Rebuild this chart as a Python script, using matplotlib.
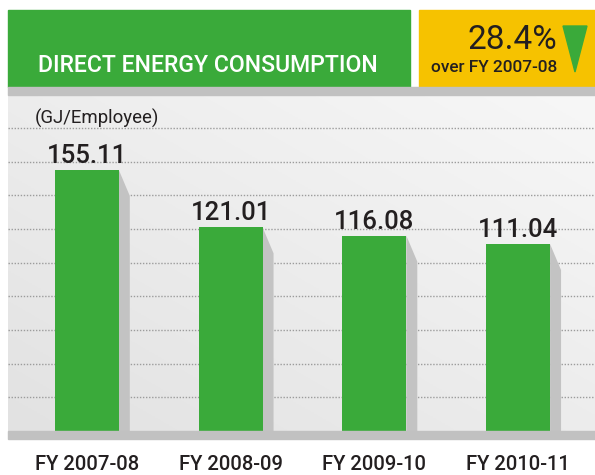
import numpy as np
import matplotlib
matplotlib.use("Agg")
import matplotlib.pyplot as plt
from matplotlib.patches import Rectangle, Polygon
from matplotlib.colors import LinearSegmentedColormap

years = ["FY 2007-08", "FY 2008-09", "FY 2009-10", "FY 2010-11"]
values = [155.11, 121.01, 116.08, 111.04]
grid_ticks = [20, 40, 60, 80, 100, 120, 140, 160, 180]
title = "DIRECT ENERGY CONSUMPTION"
unit = "(GJ/Employee)"
change = "28.4%"
change_note = "over FY 2007-08"

GREEN = "#3aaa3a"
YELLOW = "#f6c200"
STRIP = "#c1c1c1"
SHADOW = "#c3c3c3"
DARK = "#231f20"
FONT = "Roboto"

W, H = 595, 475
fig = plt.figure(figsize=(W / 100, H / 100), dpi=100)


def fx(x):
    return x / W


def fy(y):
    return 1 - y / H


def box(x0, y0, x1, y1, color):
    fig.patches.append(Rectangle((fx(x0), fy(y1)), fx(x1 - x0), (y1 - y0) / H,
                                 transform=fig.transFigure, color=color, zorder=0))


# header boxes and grey strips
box(8, 10, 410, 87, GREEN)
box(419, 10, 595, 87, YELLOW)
box(8, 87, 595, 95, STRIP)
box(8, 431, 595, 439, STRIP)

fig.text(fx(38), fy(66), title, color="white", fontsize=16.6, family=FONT,
         fontweight="medium", ha="left", va="center")
fig.text(fx(557), fy(40), change, color=DARK, fontsize=24, family=FONT,
         ha="right", va="center")
fig.text(fx(557), fy(67.5), change_note, color=DARK, fontsize=12.4, family=FONT,
         fontweight="medium", ha="right", va="center")
fig.patches.append(Polygon([(fx(563), fy(26)), (fx(587), fy(26)), (fx(575), fy(72))],
                           closed=True, transform=fig.transFigure, color=GREEN))

# chart panel
ax = fig.add_axes([fx(8), fy(431), fx(587), 336 / H])
px_per_unit = 303 / 180
ymax = 336 / px_per_unit
x_lo = -(87 - 8) / 144
x_hi = 3 + (595 - 518) / 144
ax.set_xlim(x_lo, x_hi)
ax.set_ylim(0, ymax)

# diagonal light grey gradient background
gx, gy = np.meshgrid(np.linspace(0, 1, 200), np.linspace(0, 1, 200))
grad = (gx + gy) / 2
ax.imshow(grad, extent=[x_lo, x_hi, 0, ymax], origin="lower", aspect="auto",
          cmap=LinearSegmentedColormap.from_list("bg", ["#e2e2e2", "#f7f7f7"]),
          zorder=0)

ax.set_yticks(grid_ticks)
ax.yaxis.grid(True, color="#9c9c9c", linestyle=(0, (1, 1.2)), linewidth=1.0, zorder=1)
ax.set_axisbelow(True)
for s in ax.spines.values():
    s.set_visible(False)

bar_w = 64 / 144
sh_dx = 11 / 144
sh_dy = 26 / px_per_unit
xs = np.arange(len(years))
for i, v in zip(xs, values):
    xr = i + bar_w / 2
    ax.fill([xr, xr + sh_dx, xr + sh_dx, xr], [v, v - sh_dy, 0, 0], color=SHADOW,
            lw=0, zorder=2)
ax.bar(xs, values, width=bar_w, color=GREEN, zorder=3)
for i, v in zip(xs, values):
    ax.text(i, v + 7 / px_per_unit, f"{v:.2f}", ha="center", va="baseline",
            fontsize=18.5, family=FONT, fontweight="medium", color=DARK, zorder=4)

ax.text(x_lo + (35 - 8) / 144, ymax - (118 - 95) / px_per_unit, unit, ha="left",
        va="center", fontsize=13.4, family=FONT, color=DARK, zorder=4)

ax.set_xticks(xs, years, fontsize=14.6, family=FONT, fontweight="medium", color=DARK)
ax.tick_params(axis="x", length=0, pad=17.5)
ax.tick_params(axis="y", length=0, labelleft=False)

fig.savefig("out.png", dpi=100)
